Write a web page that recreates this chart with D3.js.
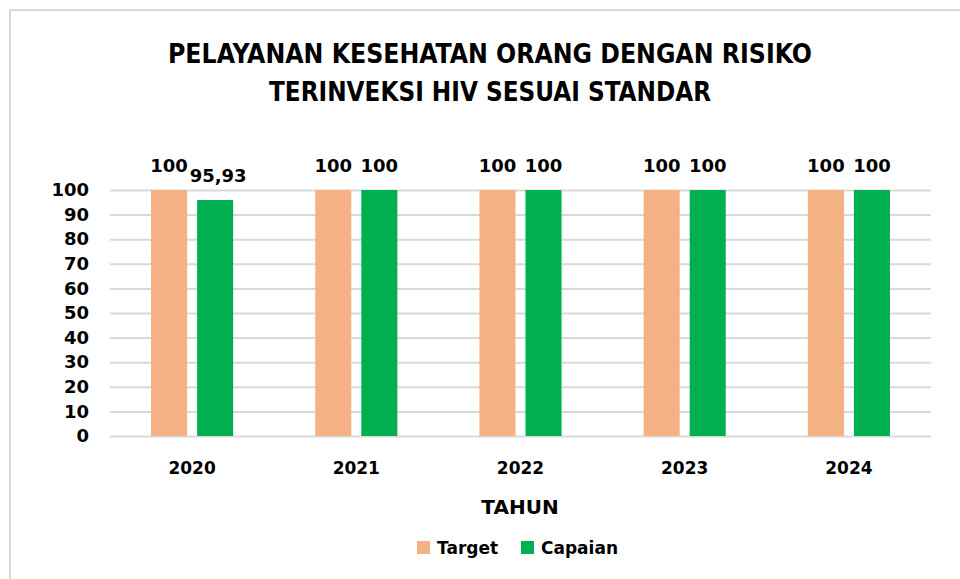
<!DOCTYPE html>
<html>
<meta charset="utf-8">
<head>
  <script src="https://d3js.org/d3.v7.js"></script>
  <style>
    body { margin: 0; background: #fff; }
    text { fill: #000; }
  </style>
</head>
<body>
  <svg id="graph" width="960" height="579"></svg>
  <script>
    // data
    var years = ["2020", "2021", "2022", "2023", "2024"];
    var series = ["Target", "Capaian"];
    var target = [100, 100, 100, 100, 100];
    var capaian = [95.93, 100, 100, 100, 100];
    var yTicks = [0, 10, 20, 30, 40, 50, 60, 70, 80, 90, 100];
    var titleLines = ["PELAYANAN KESEHATAN ORANG DENGAN RISIKO", "TERINVEKSI HIV SESUAI STANDAR"];

    var colors = {Target: "#F4B183", Capaian: "#00B050"};
    var numFont = "'DejaVu Sans', sans-serif";

    var svg = d3.select("svg#graph");
    var margin = {top: 190, right: 29, bottom: 143, left: 110};
    var width = 960 - margin.left - margin.right;
    var height = 579 - margin.top - margin.bottom;

    // chart border (right and bottom run off the picture)
    svg.append("rect")
      .attr("x", 10).attr("y", 10)
      .attr("width", 1000).attr("height", 1000)
      .attr("fill", "none")
      .attr("stroke", "#d9d9d9")
      .attr("stroke-width", 2);

    // title
    var titleW = [644, 442];
    svg.selectAll("text.title")
      .data(titleLines)
      .enter().append("text")
      .attr("class", "title")
      .attr("x", 490)
      .attr("y", (d, i) => 63 + i * 38)
      .attr("text-anchor", "middle")
      .attr("textLength", (d, i) => titleW[i])
      .attr("lengthAdjust", "spacingAndGlyphs")
      .style("font-family", "'DejaVu Sans Condensed', sans-serif")
      .style("font-size", "26px")
      .style("font-weight", "bold")
      .text(d => d);

    var g = svg.append("g").attr("transform", `translate(${margin.left}, ${margin.top})`);

    var x0 = d3.scaleBand().domain(years).range([0, width])
      .paddingInner(0.5).paddingOuter(0.25);
    var x1 = d3.scaleBand().domain(series).range([0, x0.bandwidth()])
      .paddingInner(0.217);
    var yScale = d3.scaleLinear().domain([0, 100]).range([height, 0]);

    // gridlines + y labels
    var yAxis = d3.axisLeft(yScale)
      .tickValues(yTicks)
      .tickSize(-width)
      .tickPadding(21);
    var ya = g.append("g").call(yAxis);
    ya.select(".domain").remove();
    ya.selectAll(".tick line").attr("stroke", "#d9d9d9").attr("stroke-width", 2);
    ya.selectAll(".tick text")
      .style("font-family", numFont)
      .style("font-size", "18px")
      .style("font-weight", "bold")
      .attr("fill", "#000");

    var rows = years.map((y, i) => ({year: y, Target: target[i], Capaian: capaian[i]}));

    var groups = g.selectAll("g.year")
      .data(rows)
      .enter().append("g")
      .attr("class", "year")
      .attr("transform", d => `translate(${x0(d.year)}, 0)`);

    groups.selectAll("rect")
      .data(d => series.map(s => ({key: s, value: d[s]})))
      .enter().append("rect")
      .attr("x", d => x1(d.key))
      .attr("y", d => yScale(d.value))
      .attr("width", x1.bandwidth())
      .attr("height", d => height - yScale(d.value))
      .attr("fill", d => colors[d.key]);

    groups.selectAll("text.val")
      .data(d => series.map(s => ({key: s, value: d[s]})))
      .enter().append("text")
      .attr("class", "val")
      .attr("x", d => x1(d.key) + x1.bandwidth() / 2 + (d.value < 100 ? 3 : 0))
      .attr("y", d => yScale(d.value) - 18)
      .attr("text-anchor", "middle")
      .style("font-family", numFont)
      .style("font-size", "18px")
      .style("font-weight", "bold")
      .text(d => d3.format(".2~f")(d.value).replace(".", ","));

    // x labels
    g.selectAll("text.xlab")
      .data(years)
      .enter().append("text")
      .attr("class", "xlab")
      .attr("x", d => x0(d) + x0.bandwidth() / 2)
      .attr("y", height + 38)
      .attr("text-anchor", "middle")
      .style("font-family", numFont)
      .style("font-size", "17px")
      .style("font-weight", "bold")
      .text(d => d);

    // axis title
    svg.append("text")
      .attr("x", 520)
      .attr("y", 514)
      .attr("text-anchor", "middle")
      .style("font-family", numFont)
      .style("font-size", "20px")
      .style("font-weight", "bold")
      .text("TAHUN");

    // legend
    var legX = [417, 521];
    var leg = svg.selectAll("g.leg")
      .data(series)
      .enter().append("g")
      .attr("class", "leg")
      .attr("transform", (d, i) => `translate(${legX[i]}, 541)`);
    leg.append("rect")
      .attr("width", 13).attr("height", 13)
      .attr("fill", d => colors[d]);
    leg.append("text")
      .attr("x", 20)
      .attr("y", 13)
      .style("font-family", numFont)
      .style("font-size", "17px")
      .style("font-weight", "bold")
      .text(d => d);
  </script>
</body>
</html>
